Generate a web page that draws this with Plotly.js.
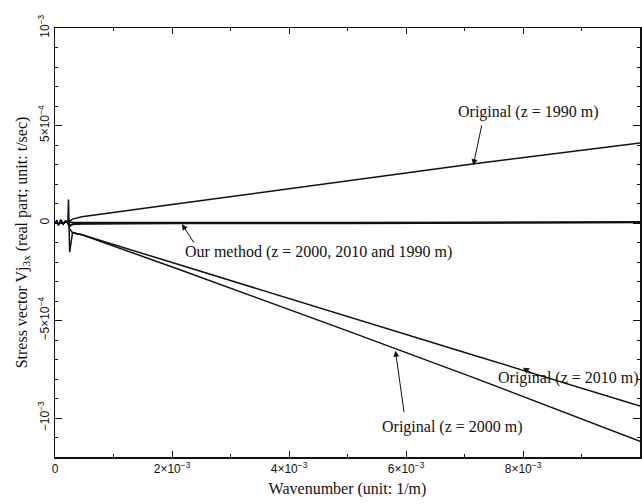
<!DOCTYPE html>
<html>
<head>
<meta charset="utf-8">
<script src="https://cdn.plot.ly/plotly-3.0.1.min.js"></script>
<style>html,body{margin:0;padding:0;background:#fff;}#chart{width:642px;height:504px;}</style>
</head>
<body>
<div id="chart"></div>
<script>
// Wavenumber samples (1/m)
var kOrig1990 = [0, 0.00003, 0.00006, 0.00010, 0.00014, 0.00018, 0.00022, 0.00025, 0.00030, 0.00046, 0.0020, 0.0050, 0.0072, 0.0100];
var vOrig1990 = [0, 0.00001, -0.00001, 0.000015, -0.000005, 0.00001, 0, 0.00001, 0.00002, 0.000032, 0.000095, 0.000218, 0.000305, 0.00041];

var kOrig2000 = [0, 0.00003, 0.00006, 0.00010, 0.00014, 0.00018, 0.00022, 0.00023, 0.00025, 0.00030, 0.00046, 0.0021, 0.0050, 0.0072, 0.0100];
var vOrig2000 = [0, 0.00001, -0.00001, 0.000015, -0.000005, 0.00001, 0, 0.00012, -0.00015, -0.00005, -0.00006, -0.000236, -0.000553, -0.000798, -0.00112];

var kOrig2010 = [0, 0.00003, 0.00006, 0.00010, 0.00014, 0.00018, 0.00022, 0.00025, 0.00030, 0.00046, 0.0021, 0.0050, 0.0072, 0.0100];
var vOrig2010 = [0, 0.00001, -0.00001, 0.000015, -0.000005, 0.00001, 0, -0.00003, -0.00005, -0.00006, -0.000212, -0.00048, -0.000682, -0.000938];

var kOurs = [0, 0.00003, 0.00006, 0.00010, 0.00014, 0.00018, 0.00022, 0.00026, 0.00030, 0.00046, 0.0021, 0.0050, 0.0100];
var vOurs2000 = [0, 0.00001, -0.00001, 0.000015, -0.000005, 0.00001, 0, -0.00001, -0.000005, -0.000003, 0.0, 0.0, 0.000004];
var vOurs2010 = [0, 0.00001, -0.00001, 0.000015, -0.000005, 0.00001, 0, -0.000015, -0.000008, -0.000005, -0.000002, -0.000002, 0.000002];
var vOurs1990 = [0, 0.00001, -0.00001, 0.000015, -0.000005, 0.00001, 0, 0.000005, 0.000003, 0.000002, 0.000002, 0.000002, 0.000006];

var xTickVals = [0, 0.002, 0.004, 0.006, 0.008];
var xTickText = ['0', '2×10<sup>−3</sup>', '4×10<sup>−3</sup>', '6×10<sup>−3</sup>', '8×10<sup>−3</sup>'];
var yTickVals = [-0.001, -0.0005, 0, 0.0005, 0.001];
var yTickText = ['−10<sup>−3</sup>', '−5×10<sup>−4</sup>', '0', '5×10<sup>−4</sup>', '10<sup>−3</sup>'];

function line(x, y, name) {
  return {x: x, y: y, name: name, type: 'scatter', mode: 'lines',
          line: {color: '#111', width: 1.5}, hoverinfo: 'skip'};
}

var data = [
  line(kOrig1990, vOrig1990, 'Original 1990'),
  line(kOrig2000, vOrig2000, 'Original 2000'),
  line(kOrig2010, vOrig2010, 'Original 2010'),
  line(kOurs, vOurs2000, 'Our 2000'),
  line(kOurs, vOurs2010, 'Our 2010'),
  line(kOurs, vOurs1990, 'Our 1990')
];

var serif = {family: 'Liberation Serif, Times New Roman, serif', size: 16, color: '#111'};
var sans = {family: 'Liberation Sans, Arial, sans-serif', size: 12, color: '#111'};

function arrow(hx, hy, tx, ty) {
  return {x: hx, y: hy, ax: tx, ay: ty, xref: 'x', yref: 'y', axref: 'x', ayref: 'y',
          text: '', showarrow: true, arrowhead: 2, arrowsize: 1.2, arrowwidth: 1, arrowcolor: '#111'};
}
function label(x, y, t, anchor) {
  return {x: x, y: y, xref: 'x', yref: 'y', text: t, showarrow: false,
          xanchor: anchor || 'center', yanchor: 'middle', font: serif};
}

var layout = {
  width: 642, height: 504,
  margin: {l: 55, r: 2, t: 28, b: 47},
  paper_bgcolor: '#fff', plot_bgcolor: '#fff',
  showlegend: false,
  xaxis: {
    range: [0, 0.01], autorange: false,
    showline: true, linecolor: '#111', linewidth: 1.5, mirror: 'ticks',
    ticks: 'inside', ticklen: 6, tickcolor: '#111', tickwidth: 1,
    tickvals: xTickVals, ticktext: xTickText, tickfont: sans,
    minor: {dtick: 0.001, ticks: 'inside', ticklen: 3, tickcolor: '#111', tick0: 0},
    showgrid: false, zeroline: false,
    title: {text: 'Wavenumber (unit: 1/m)', font: serif, standoff: 8}
  },
  yaxis: {
    range: [-0.0012, 0.001], autorange: false,
    showline: true, linecolor: '#111', linewidth: 1.5, mirror: 'ticks',
    ticks: 'inside', ticklen: 7, tickcolor: '#111', tickwidth: 1,
    tickvals: yTickVals, ticktext: yTickText, tickfont: sans, tickangle: -90,
    minor: {dtick: 0.0001, tick0: 0, ticks: 'inside', ticklen: 3, tickcolor: '#111'},
    showgrid: false, zeroline: false,
    title: {text: 'Stress vector Vj<sub>3x</sub> (real part; unit: t/sec)', font: serif, standoff: 4}
  },
  annotations: [
    label(0.00809, 0.000569, 'Original (z = 1990 m)'),
    arrow(0.00715, 0.000296, 0.0073, 0.000508),
    label(0.00219, -0.000149, 'Our method (z = 2000, 2010 and 1990 m)', 'left'),
    arrow(0.00217, -0.000005, 0.00239, -0.000108),
    label(0.00877, -0.000795, 'Original (z = 2010 m)'),
    arrow(0.0080, -0.000742, 0.00815, -0.00077),
    label(0.0068, -0.001046, 'Original (z = 2000 m)'),
    arrow(0.00582, -0.000655, 0.00597, -0.000978)
  ]
};

Plotly.newPlot('chart', data, layout, {staticPlot: true, displayModeBar: false});
</script>
</body>
</html>
